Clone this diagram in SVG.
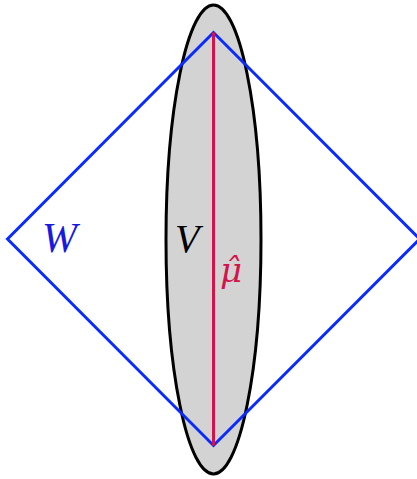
<svg xmlns="http://www.w3.org/2000/svg" width="417" height="479" viewBox="0 0 417 479">
<style>
.lbl{font-family:"Liberation Serif","DejaVu Serif",serif;font-style:italic;font-size:40px}
</style>
<rect width="417" height="479" fill="#fff"/>
<g id="V">
<ellipse cx="213.5" cy="239.5" rx="47.5" ry="234.5" fill="#d3d3d3" stroke="#000" stroke-width="3"/>
<text class="lbl" x="175" y="252" fill="#000">V</text>
</g>
<g id="W">
<path d="M213.5,32.5 L7.5,239 L213.5,445.5 L419.5,239 Z" fill="none" stroke="#0a2bff" stroke-width="3" stroke-linejoin="miter"/>
<text class="lbl" x="42" y="252" fill="#1a1adf" style="font-size:42px">W</text>
</g>
<g id="connectors">
<line x1="213.5" y1="32.5" x2="213.5" y2="445.5" stroke="#d4134c" stroke-width="3"/>
</g>
<g id="mu" fill="#d4134c">
<text x="220" y="282" style="font-family:'DejaVu Serif',serif;font-style:italic;font-size:34px">μ̂</text>
</g>
</svg>
